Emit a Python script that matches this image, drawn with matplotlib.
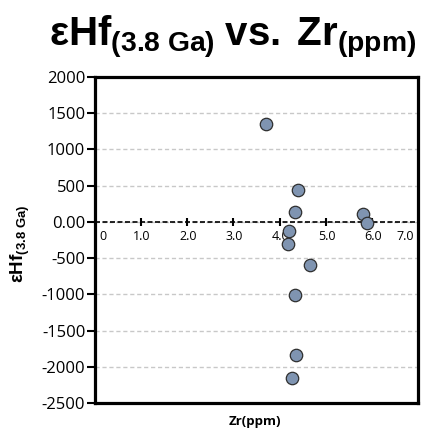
import matplotlib
matplotlib.use("Agg")
import matplotlib.pyplot as plt
from matplotlib.transforms import ScaledTranslation, blended_transform_factory

# Zircon data: Zr concentration vs. initial epsilon-Hf at 3.8 Ga
zr_ppm = [3.70, 4.40, 4.33, 5.80, 5.89, 4.20, 4.18, 4.66, 4.34, 4.35, 4.27]
ehf_38 = [1354, 436, 133, 106, -22, -124, -307, -592, -1009, -1838, -2151]

y_ticks = [2000, 1500, 1000, 500, 0, -500, -1000, -1500, -2000, -2500]
y_tick_labels = ["2000", "1500", "1000", "500", "0.00", "-500", "-1000",
                 "-1500", "-2000", "-2500"]
x_ticks = [0, 1, 2, 3, 4, 5, 6, 7]
x_tick_labels = ["0", "1.0", "2.0", "3.0", "4.0", "5.0", "6.0", "7.0"]

plt.rcParams["mathtext.fontset"] = "custom"
plt.rcParams["mathtext.rm"] = "Liberation Sans"
plt.rcParams["mathtext.bf"] = "Liberation Sans:bold"
plt.rcParams["mathtext.it"] = "Liberation Sans:italic"

W, H = 429, 428
fig = plt.figure(figsize=(W / 100, H / 100), dpi=100)
ax = fig.add_axes([95 / W, 1 - 403 / H, 323 / W, 326 / H])

ax.set_xlim(0, 7)
ax.set_ylim(-2500, 2000)

# frame
for s in ax.spines.values():
    s.set_linewidth(2.3)
    s.set_color("black")

# y axis
ax.set_yticks(y_ticks)
ax.set_yticklabels(y_tick_labels, fontsize=12, family="Open Sans")
ax.tick_params(axis="y", direction="out", length=6, width=1.5, pad=1, colors="black")
ax.yaxis.grid(True, linestyle=(0, (3, 2)), color="#c8c8c8", linewidth=1.0)
ax.set_axisbelow(True)

# hide the default bottom axis; the category axis crosses at zero
ax.set_xticks([])
ax.axhline(0, color="black", linestyle=(0, (3, 1.5)), linewidth=1.2, zorder=2)
trans = blended_transform_factory(ax.transData, ax.transData)
ax.plot(x_ticks[1:-1], [0] * (len(x_ticks) - 2), linestyle="none", marker="|",
        markersize=6, markeredgewidth=1.5, color="black", zorder=2)
for xv, lab in zip(x_ticks, x_tick_labels):
    if xv == x_ticks[0]:
        ha, dx = "left", 4
    elif xv == x_ticks[-1]:
        ha, dx = "right", -4
    else:
        ha, dx = "center", 1
    ax.text(xv, 0, lab, ha=ha, va="top", fontsize=9, family="Open Sans",
            transform=trans + ScaledTranslation(dx / 100, -8 / 100, fig.dpi_scale_trans))

ax.scatter(zr_ppm, ehf_38, s=80, color="#7f94b1", edgecolors="#2f2f2f",
           linewidths=0.9, zorder=3)

# title and axis labels
fig.text(233 / W, 1 - 46 / H, r"$\mathbf{εHf_{(3.8\ Ga)}\;vs.\;Zr_{(ppm)}}$",
         ha="center", va="baseline", fontsize=29)
fig.text(20 / W, 1 - 244 / H, r"$\mathbf{εHf_{(3.8\ Ga)}}$", rotation=90,
         ha="center", va="center", fontsize=13.5)
fig.text(255 / W, 1 - 421 / H, "Zr(ppm)", ha="center", va="center",
         fontsize=9.5, fontweight="bold", family="Open Sans")

fig.savefig("out.png", dpi=100)
